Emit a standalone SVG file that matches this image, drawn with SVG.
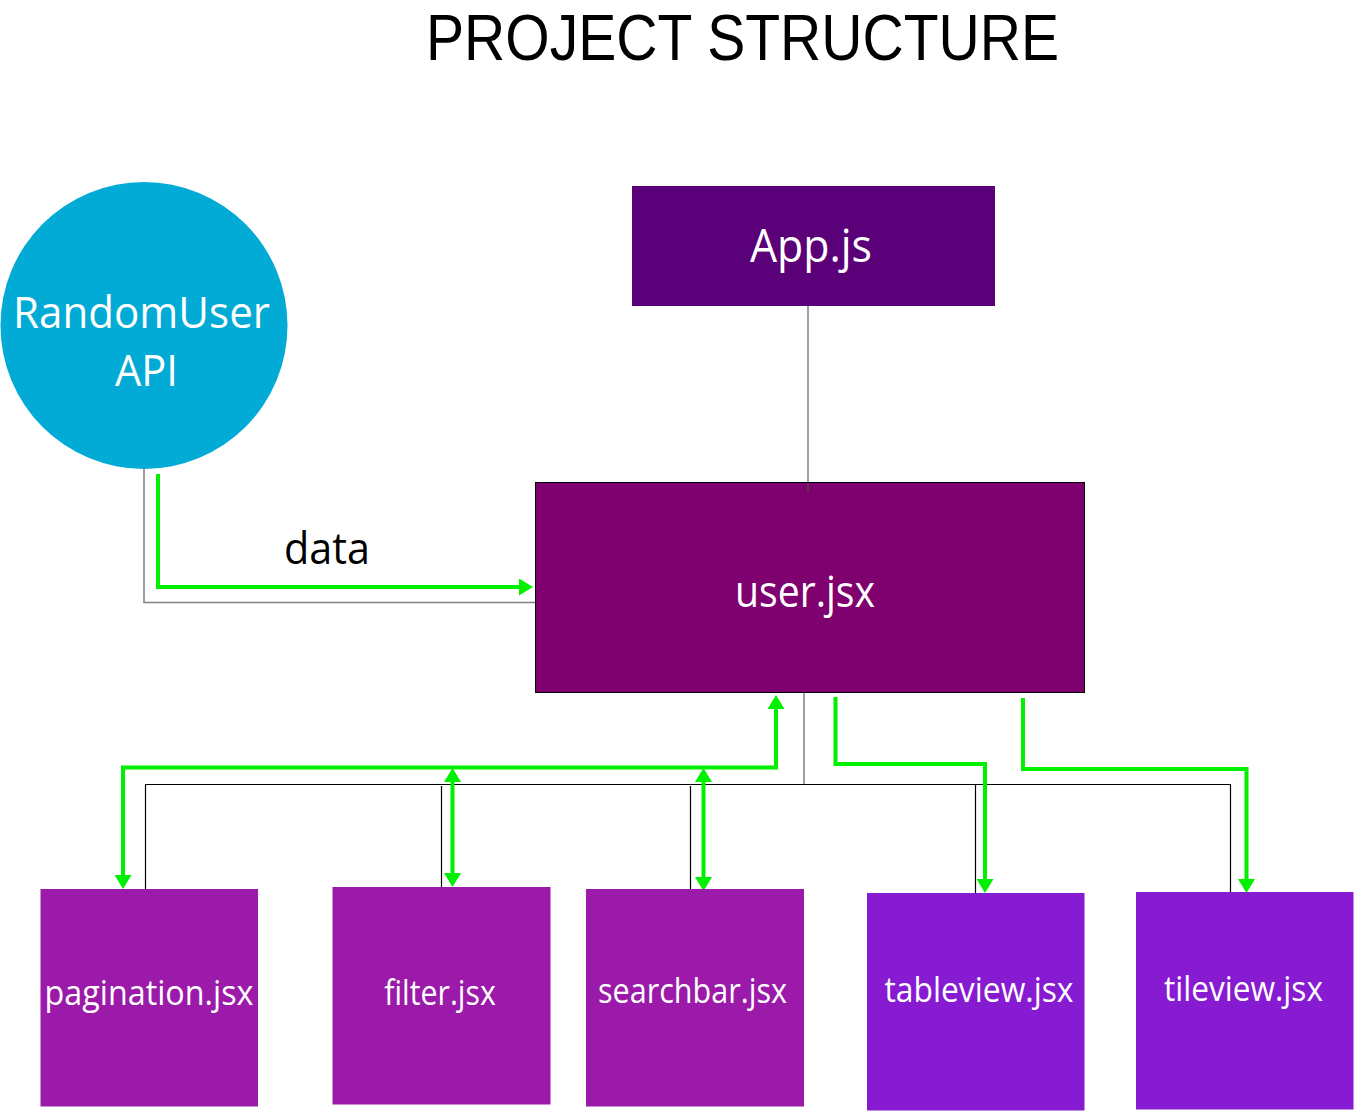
<svg xmlns="http://www.w3.org/2000/svg" width="1354" height="1111" viewBox="0 0 1354 1111">
<style>
  text { font-family: "Open Sans", "Noto Sans", "Liberation Sans", sans-serif; }
  .title { font-family: "Liberation Sans", "Open Sans", sans-serif; }
  .w { fill: #ffffff; text-anchor: middle; }
  .lbl { fill: #9b1aa9; }
  .lbl2 { fill: #871bd2; }
  .gray { fill: none; stroke: #808080; stroke-width: 1.5; }
  .blk { fill: none; stroke: #000000; stroke-width: 1.2; }
  .grn { fill: none; stroke: #00f000; stroke-width: 4; }
</style>
<defs>
  <marker id="ah" viewBox="0 0 14 17" refX="0" refY="8.5" markerWidth="14" markerHeight="17" markerUnits="userSpaceOnUse" orient="auto-start-reverse">
    <path d="M0,0 L14,8.5 L0,17 z" fill="#00f000"/>
  </marker>
</defs>
<rect width="1354" height="1111" fill="#ffffff"/>
<text class="title" x="742.5" y="59.5" font-size="65" fill="#000000" text-anchor="middle" textLength="633" lengthAdjust="spacingAndGlyphs">PROJECT STRUCTURE</text>

<g id="connectors">
  <line class="gray" x1="808" y1="302" x2="808" y2="492"/>
  <polyline class="gray" points="144,469 144,602.5 535,602.5"/>
  <line class="gray" x1="804" y1="692" x2="804" y2="784.5"/>
  <line class="blk" x1="145" y1="784.5" x2="1231" y2="784.5"/>
  <line class="blk" x1="145.5" y1="784.5" x2="145.5" y2="889"/>
  <line class="blk" x1="441.5" y1="786" x2="441.5" y2="887"/>
  <line class="blk" x1="690.5" y1="786" x2="690.5" y2="889"/>
  <line class="blk" x1="975.5" y1="784.5" x2="975.5" y2="893"/>
  <line class="blk" x1="1230.5" y1="784.5" x2="1230.5" y2="892"/>

  <polyline class="grn" points="158,474 158,587 519,587" marker-end="url(#ah)"/>
  <polyline class="grn" points="123,875 123,767.5 776,767.5 776,709" marker-start="url(#ah)" marker-end="url(#ah)"/>
  <line class="grn" x1="452.5" y1="782" x2="452.5" y2="873" marker-start="url(#ah)" marker-end="url(#ah)"/>
  <line class="grn" x1="703.5" y1="782" x2="703.5" y2="877" marker-start="url(#ah)" marker-end="url(#ah)"/>
  <polyline class="grn" points="835.5,697 835.5,764 985,764 985,879" marker-end="url(#ah)"/>
  <polyline class="grn" points="1023,698 1023,769 1246.5,769 1246.5,879" marker-end="url(#ah)"/>
</g>

<g id="api">
  <circle cx="144" cy="325.5" r="143.5" fill="#02aad6"/>
  <text class="w" x="141.5" y="328" font-size="44" textLength="257" lengthAdjust="spacingAndGlyphs">RandomUser</text>
  <text class="w" x="146.5" y="386" font-size="44" textLength="63" lengthAdjust="spacingAndGlyphs">API</text>
</g>

<g id="data-label">
  <text x="327" y="564" font-size="44" fill="#000000" text-anchor="middle" textLength="86" lengthAdjust="spacingAndGlyphs">data</text>
</g>

<g id="app">
  <rect x="632" y="186" width="363" height="120" fill="#5a0078"/>
  <text class="w" x="811" y="262" font-size="46" textLength="122" lengthAdjust="spacingAndGlyphs">App.js</text>
</g>

<g id="user">
  <rect x="535.5" y="482.5" width="549" height="210" fill="#7f006f" stroke="#000000" stroke-width="1"/>
  <text class="w" x="805" y="607" font-size="43" textLength="140" lengthAdjust="spacingAndGlyphs">user.jsx</text>
  <line x1="808" y1="483" x2="808" y2="492" stroke="#444444" stroke-width="1.5"/>
</g>

<g id="pagination">
  <rect x="40.5" y="889" width="217.5" height="217.5" class="lbl"/>
  <text class="w" x="149" y="1005" font-size="35" textLength="209" lengthAdjust="spacingAndGlyphs">pagination.jsx</text>
</g>
<g id="filter">
  <rect x="332.5" y="887" width="218" height="217.5" class="lbl"/>
  <text class="w" x="440" y="1005" font-size="35" textLength="111.5" lengthAdjust="spacingAndGlyphs">filter.jsx</text>
</g>
<g id="searchbar">
  <rect x="586" y="889" width="218" height="217.5" class="lbl"/>
  <text class="w" x="692.5" y="1003" font-size="35" textLength="189" lengthAdjust="spacingAndGlyphs">searchbar.jsx</text>
</g>
<g id="tableview">
  <rect x="867" y="893" width="217.5" height="217.5" class="lbl2"/>
  <text class="w" x="979" y="1002" font-size="35" textLength="189" lengthAdjust="spacingAndGlyphs">tableview.jsx</text>
</g>
<g id="tileview">
  <rect x="1136" y="892" width="217.5" height="217.5" class="lbl2"/>
  <text class="w" x="1243.5" y="1001" font-size="35" textLength="159" lengthAdjust="spacingAndGlyphs">tileview.jsx</text>
</g>
</svg>
